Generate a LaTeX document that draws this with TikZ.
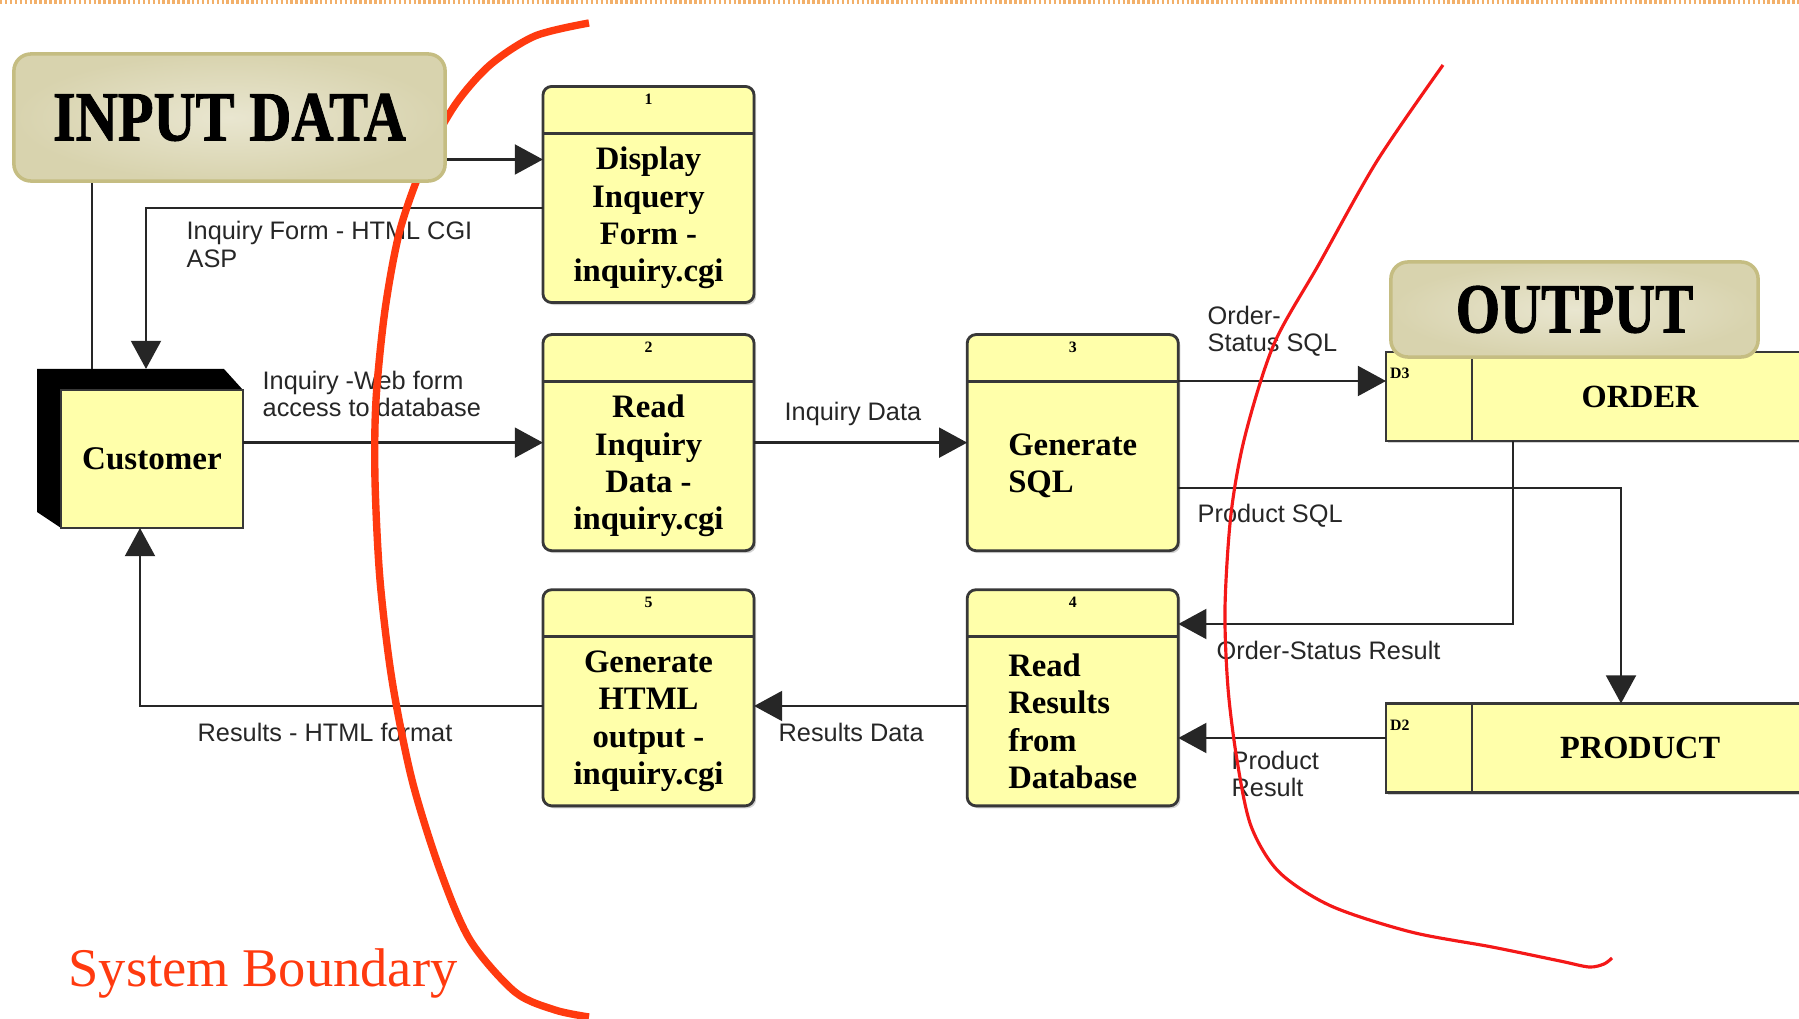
\documentclass[tikz,border=0pt]{standalone}
\usepackage{fontspec}
\usepackage{graphicx}
\setmainfont{Liberation Serif}
\newfontfamily\lblfont{Liberation Sans}
\newfontfamily\titlefont{Liberation Serif}[BoldFeatures={FakeBold=1.5}]
\usetikzlibrary{arrows.meta, positioning, shadows}

\definecolor{boxyellow}{HTML}{FFFFAA}
\definecolor{boxline}{HTML}{383838}
\definecolor{titlefill}{HTML}{D8D3AE}
\definecolor{titlelight}{HTML}{E9E6D0}
\definecolor{titleline}{HTML}{C5BD82}
\definecolor{sysred}{HTML}{FF3A0F}
\definecolor{edgered}{HTML}{F41818}
\definecolor{dotorange}{HTML}{F2B06A}

\pgfdeclarelayer{bound}
\pgfdeclarelayer{top}
\pgfsetlayers{main,bound,top}

\begin{document}
\begin{tikzpicture}[x=0.01cm, y=-0.01cm,
  procbox/.style={draw=boxline, line width=0.8pt, fill=boxyellow, rounded corners=2.5pt,
    minimum width=2.11cm, minimum height=2.16cm, inner sep=0pt, outer sep=0pt,
    drop shadow={shadow xshift=0.6pt, shadow yshift=-0.7pt, fill=black!35},
    path picture={\draw[boxline, line width=0.8pt]
      ([yshift=-0.47cm]path picture bounding box.north west) --
      ([yshift=-0.47cm]path picture bounding box.north east);},
    label={[pnum]north:#1}},
  pnum/.style={anchor=north, inner sep=2pt, font=\fontsize{4.5}{5}\selectfont\bfseries},
  ptext/.style={font=\fontsize{9.3}{10.6}\selectfont\bfseries, align=center, inner sep=0pt},
  custbox/.style={draw=boxline, line width=0.8pt, fill=boxyellow, outer sep=0pt,
    minimum width=1.82cm, minimum height=1.38cm, font=\fontsize{9.4}{11}\selectfont\bfseries},
  storeid/.style={draw=boxline, line width=0.8pt, fill=boxyellow, outer sep=0pt,
    minimum width=0.86cm, minimum height=0.89cm,
    drop shadow={shadow xshift=0.6pt, shadow yshift=-0.7pt, fill=black!35},
    label={[sid]north west:#1}},
  sid/.style={anchor=north west, inner sep=1pt, yshift=-0.12cm, font=\fontsize{4.5}{5}\selectfont\bfseries},
  storename/.style={draw=boxline, line width=0.8pt, fill=boxyellow, outer sep=0pt,
    minimum width=3.36cm, minimum height=0.89cm,
    drop shadow={shadow xshift=0.6pt, shadow yshift=-0.7pt, fill=black!35},
    font=\fontsize{9.2}{11}\selectfont\bfseries},
  titlebox/.style={draw=titleline, line width=1pt, inner color=titlelight, outer color=titlefill,
    rounded corners=0.17cm, font=\titlefont\fontsize{20}{22}\selectfont\bfseries},
  lbl/.style={font=\lblfont\fontsize{7.2}{7.8}\selectfont, text=black!85, align=left, anchor=west, inner sep=0pt},
  flow/.style={draw=black!85, line width=0.7pt, -{Triangle[length=8pt,width=8.5pt]}},
  wire/.style={draw=black!85, line width=0.7pt},
  leftbound/.style={draw=sysred, line width=2.1pt},
  rightbound/.style={draw=edgered, line width=0.9pt}]

  \useasboundingbox (0,0) rectangle (1799,1019);
  \clip (0,0) rectangle (1799,1019);

  \draw[dotorange, line width=1.3pt, dash pattern=on 0.7pt off 0.7pt] (0,2) -- (1799,2);

  % titles (kept above the boundary line)
  \begin{pgfonlayer}{top}
    \node[titlebox, minimum width=4.31cm, minimum height=1.27cm] (indata) at (229.5,117.5)
      {\scalebox{0.83}[1]{INPUT DATA}};
    \node[titlebox, minimum width=3.67cm, minimum height=0.95cm] (outbox) at (1574.5,309.5)
      {\scalebox{0.81}[1]{OUTPUT}};
  \end{pgfonlayer}

  % external entity
  \fill[black] (243,390) -- (224,369) -- (37,369) -- (37,512) -- (61,528) -- cycle;
  \node[custbox] (cust) at (152,459) {Customer};
  \coordinate (custtop) at ([yshift=0.21cm]cust.north);

  % processes
  \node[procbox=1] (disp) at (648.5,194.5) {};
  \node[procbox=2, below=0.32cm of disp] (readin) {};
  \node[procbox=5, below=0.39cm of readin] (genhtml) {};
  \node[procbox=3, right=2.13cm of readin] (gensql) {};
  \node[procbox=4, below=0.39cm of gensql] (readres) {};

  \node[ptext] (disp-t) at ([yshift=-0.235cm]disp.center) {Display\\Inquery\\Form -\\inquiry.cgi};
  \node[ptext] (readin-t) at ([yshift=-0.235cm]readin.center) {Read\\Inquiry\\Data -\\inquiry.cgi};
  \node[ptext] (genhtml-t) at ([yshift=-0.235cm]genhtml.center) {Generate\\HTML\\output -\\inquiry.cgi};
  \node[ptext, align=left] (gensql-t) at ([yshift=-0.235cm]gensql.center) {Generate\\SQL};
  \node[ptext, align=left] (readres-t) at ([yshift=-0.235cm]readres.center) {Read\\Results\\from\\Database};

  % data stores
  \node[storeid=D3] (oid) at (1429,396.5) {};
  \node[storename, right=0pt of oid] (oname) {ORDER};
  \node[storeid=D2] (pid) at (1429,748) {};
  \node[storename, right=0pt of pid] (pname) {PRODUCT};

  % flows
  \draw[flow] (indata.east |- 0,159.5) -- (disp.west |- 0,159.5);
  \draw[flow] (disp.west |- 0,208) -| ([xshift=-0.06cm]custtop);
  \draw[wire] (indata.south -| 92,0) -- (custtop -| 92,0);
  \draw[flow] (cust.east |- readin.west) -- (readin.west);
  \draw[flow] (readin.east) -- (gensql.west);
  \draw[flow] (gensql.east |- 0,381) -- (oid.west |- 0,381);
  \draw[flow] (gensql.east |- 0,488) -| (pname.north -| 1621,0);
  \draw[flow] (oname.south -| 1513,0) |- (readres.east |- 0,624);
  \draw[flow] (pid.west |- 0,738) -- (readres.east |- 0,738);
  \draw[flow] (readres.west |- 0,706) -- (genhtml.east |- 0,706);
  \draw[flow] (genhtml.west |- 0,706) -| (cust.south -| 140,0);

  \node[lbl] (l-form) at (186,244.5) {Inquiry Form - HTML CGI\\ASP};
  \node[lbl] (l-web) at (262,394) {Inquiry -Web form\\access to database};
  \node[lbl] (l-idata) at (784,414) {Inquiry Data};
  \node[lbl] (l-osql) at (1207,331) {Order-\\Status SQL};
  \node[lbl] (l-psql) at (1197,516) {Product SQL};
  \node[lbl] (l-ores) at (1216,650) {Order-Status Result};
  \node[lbl] (l-pres) at (1231,774) {Product\\Result};
  \node[lbl] (l-rdata) at (778,732) {Results Data};
  \node[lbl] (l-rhtml) at (197,732) {Results - HTML format};

  % boundary
  \begin{pgfonlayer}{bound}
    \draw[leftbound] plot[smooth] coordinates {(589,23) (535,36) (490,65) (455,105) (425,160)
      (400,230) (385,310) (376,400) (375,480) (380,580) (392,680) (412,780) (440,870)
      (470,940) (515,992) (555,1010) (589,1017)};
    \draw[rightbound] plot[smooth] coordinates {(1443,65) (1377,161) (1319,264) (1274,344)
      (1245,436) (1231,514) (1225,608) (1228,688) (1237,760) (1251,826) (1279,872)
      (1331,906) (1411,932) (1492,947) (1560,961) (1589,967) (1604,964) (1612,958)};
  \end{pgfonlayer}
  \node[text=sysred, font=\fontsize{15.5}{18}\selectfont] (sysb) at (263,973) {System Boundary};
\end{tikzpicture}
\end{document}
